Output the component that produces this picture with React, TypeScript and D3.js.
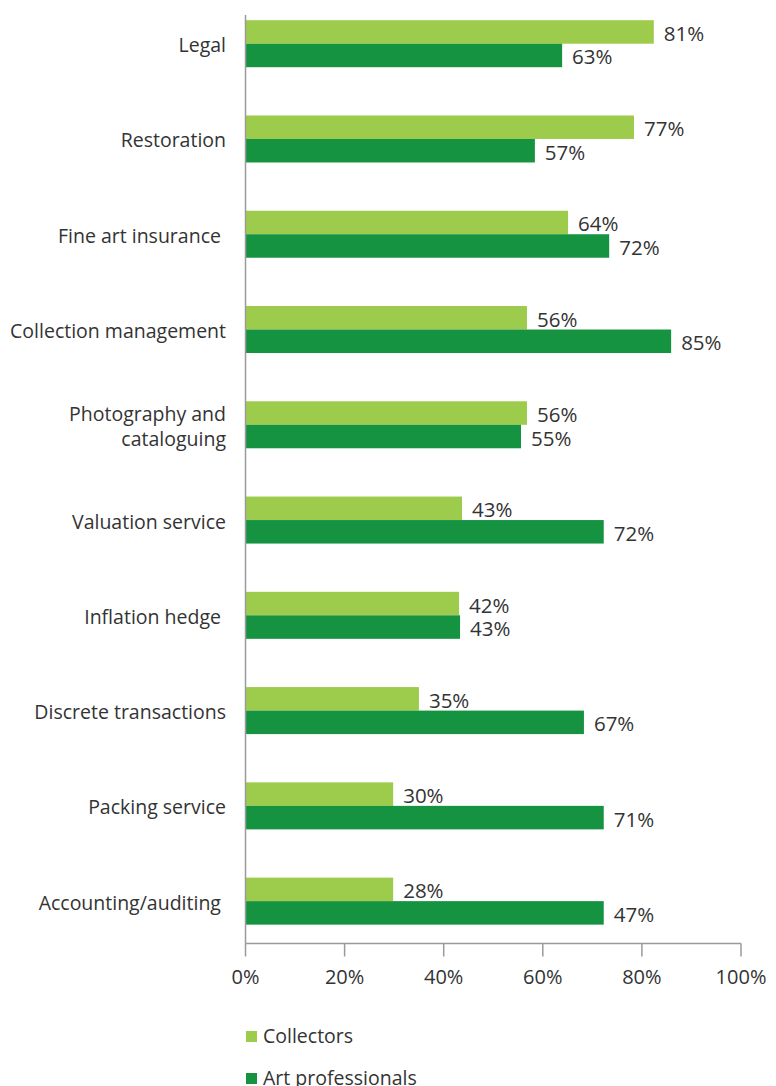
import React from "react";
import * as d3 from "d3";

const categories = [
  ["Legal"],
  ["Restoration"],
  ["Fine art insurance "],
  ["Collection management"],
  ["Photography and", "cataloguing"],
  ["Valuation service"],
  ["Inflation hedge "],
  ["Discrete transactions"],
  ["Packing service"],
  ["Accounting/auditing "],
];
const seriesNames = ["Collectors", "Art professionals"];
// bar lengths as drawn in the reference (percent)
const collectorsBars = [82.4, 78.4, 65.1, 56.8, 56.8, 43.7, 43.1, 35.0, 29.8, 29.8];
const professionalsBars = [63.9, 58.4, 73.4, 85.9, 55.6, 72.3, 43.3, 68.3, 72.3, 72.3];
// data labels as printed in the reference
const collectorsLabels = ["81%", "77%", "64%", "56%", "56%", "43%", "42%", "35%", "30%", "28%"];
const professionalsLabels = ["63%", "57%", "72%", "85%", "55%", "72%", "43%", "67%", "71%", "47%"];
const xTicks = [0, 20, 40, 60, 80, 100];

const colors = ["#9dcb4b", "#159341"];
const FONT = "'Open Sans', 'Noto Sans', sans-serif";
const TEXT = "#333333";
const AXIS = "#9a9a9a";

export default function App() {
  const W = 776;
  const H = 1086;
  const x = d3.scaleLinear().domain([0, 100]).range([245.5, 741]);
  const keys = categories.map((c) => c.join(" "));
  const y = d3.scaleBand<string>().domain(keys).range([-3.93, 948.77]).padding(0);
  const inner = d3.scaleBand<string>().domain(seriesNames).range([0, 47]).padding(0);
  const series = [
    { name: seriesNames[0], bars: collectorsBars, labels: collectorsLabels },
    { name: seriesNames[1], bars: professionalsBars, labels: professionalsLabels },
  ];
  const axisY = 943.5;

  return (
    <svg
      width={W}
      height={H}
      style={{ position: "absolute", left: 0, top: 0, background: "#fff" }}
      fontFamily={FONT}
    >
      <rect width={W} height={H} fill="#fff" />
      {/* bars */}
      {series.map((s, si) =>
        keys.map((k, i) => {
          const c = (y(k) as number) + y.bandwidth() / 2;
          const top = c - 23.5 + (inner(s.name) as number);
          return (
            <g key={s.name + k}>
              <rect
                x={x(0)}
                y={top}
                width={x(s.bars[i]) - x(0)}
                height={inner.bandwidth()}
                fill={colors[si]}
              />
              <text
                x={x(s.bars[i]) + 10}
                y={top + inner.bandwidth() / 2 + 1}
                dominantBaseline="central"
                fontSize={20.5}
                fill={TEXT}
              >
                {s.labels[i]}
              </text>
            </g>
          );
        })
      )}
      {/* y axis */}
      <line x1={x(0)} x2={x(0)} y1={15} y2={axisY} stroke={AXIS} strokeWidth={1.5} />
      {/* category labels */}
      {categories.map((lines, i) => {
        const c = (y(keys[i]) as number) + y.bandwidth() / 2;
        const n = lines.length;
        return (
          <text
            key={keys[i]}
            x={226}
            textAnchor="end"
            fontSize={19.5}
            fill={TEXT}
            style={{ whiteSpace: "pre" }}
          >
            {lines.map((ln, li) => (
              <tspan key={li} x={226} y={c + 1 + (li - (n - 1) / 2) * 25} dominantBaseline="central">
                {ln}
              </tspan>
            ))}
          </text>
        );
      })}
      {/* x axis */}
      <line x1={x(0)} x2={x(100)} y1={axisY} y2={axisY} stroke={AXIS} strokeWidth={1.5} />
      {xTicks.map((t) => (
        <g key={t}>
          <line x1={x(t)} x2={x(t)} y1={axisY} y2={axisY + 13} stroke={AXIS} strokeWidth={1.5} />
          <text x={x(t)} y={984} textAnchor="middle" fontSize={20} fill={TEXT}>
            {t + "%"}
          </text>
        </g>
      ))}
      {/* legend */}
      {seriesNames.map((name, i) => (
        <g key={name}>
          <rect x={246} y={1031 + i * 42} width={11} height={11} fill={colors[i]} />
          <text x={263} y={1043 + i * 42} fontSize={19.5} fill={TEXT}>
            {name}
          </text>
        </g>
      ))}
    </svg>
  );
}
